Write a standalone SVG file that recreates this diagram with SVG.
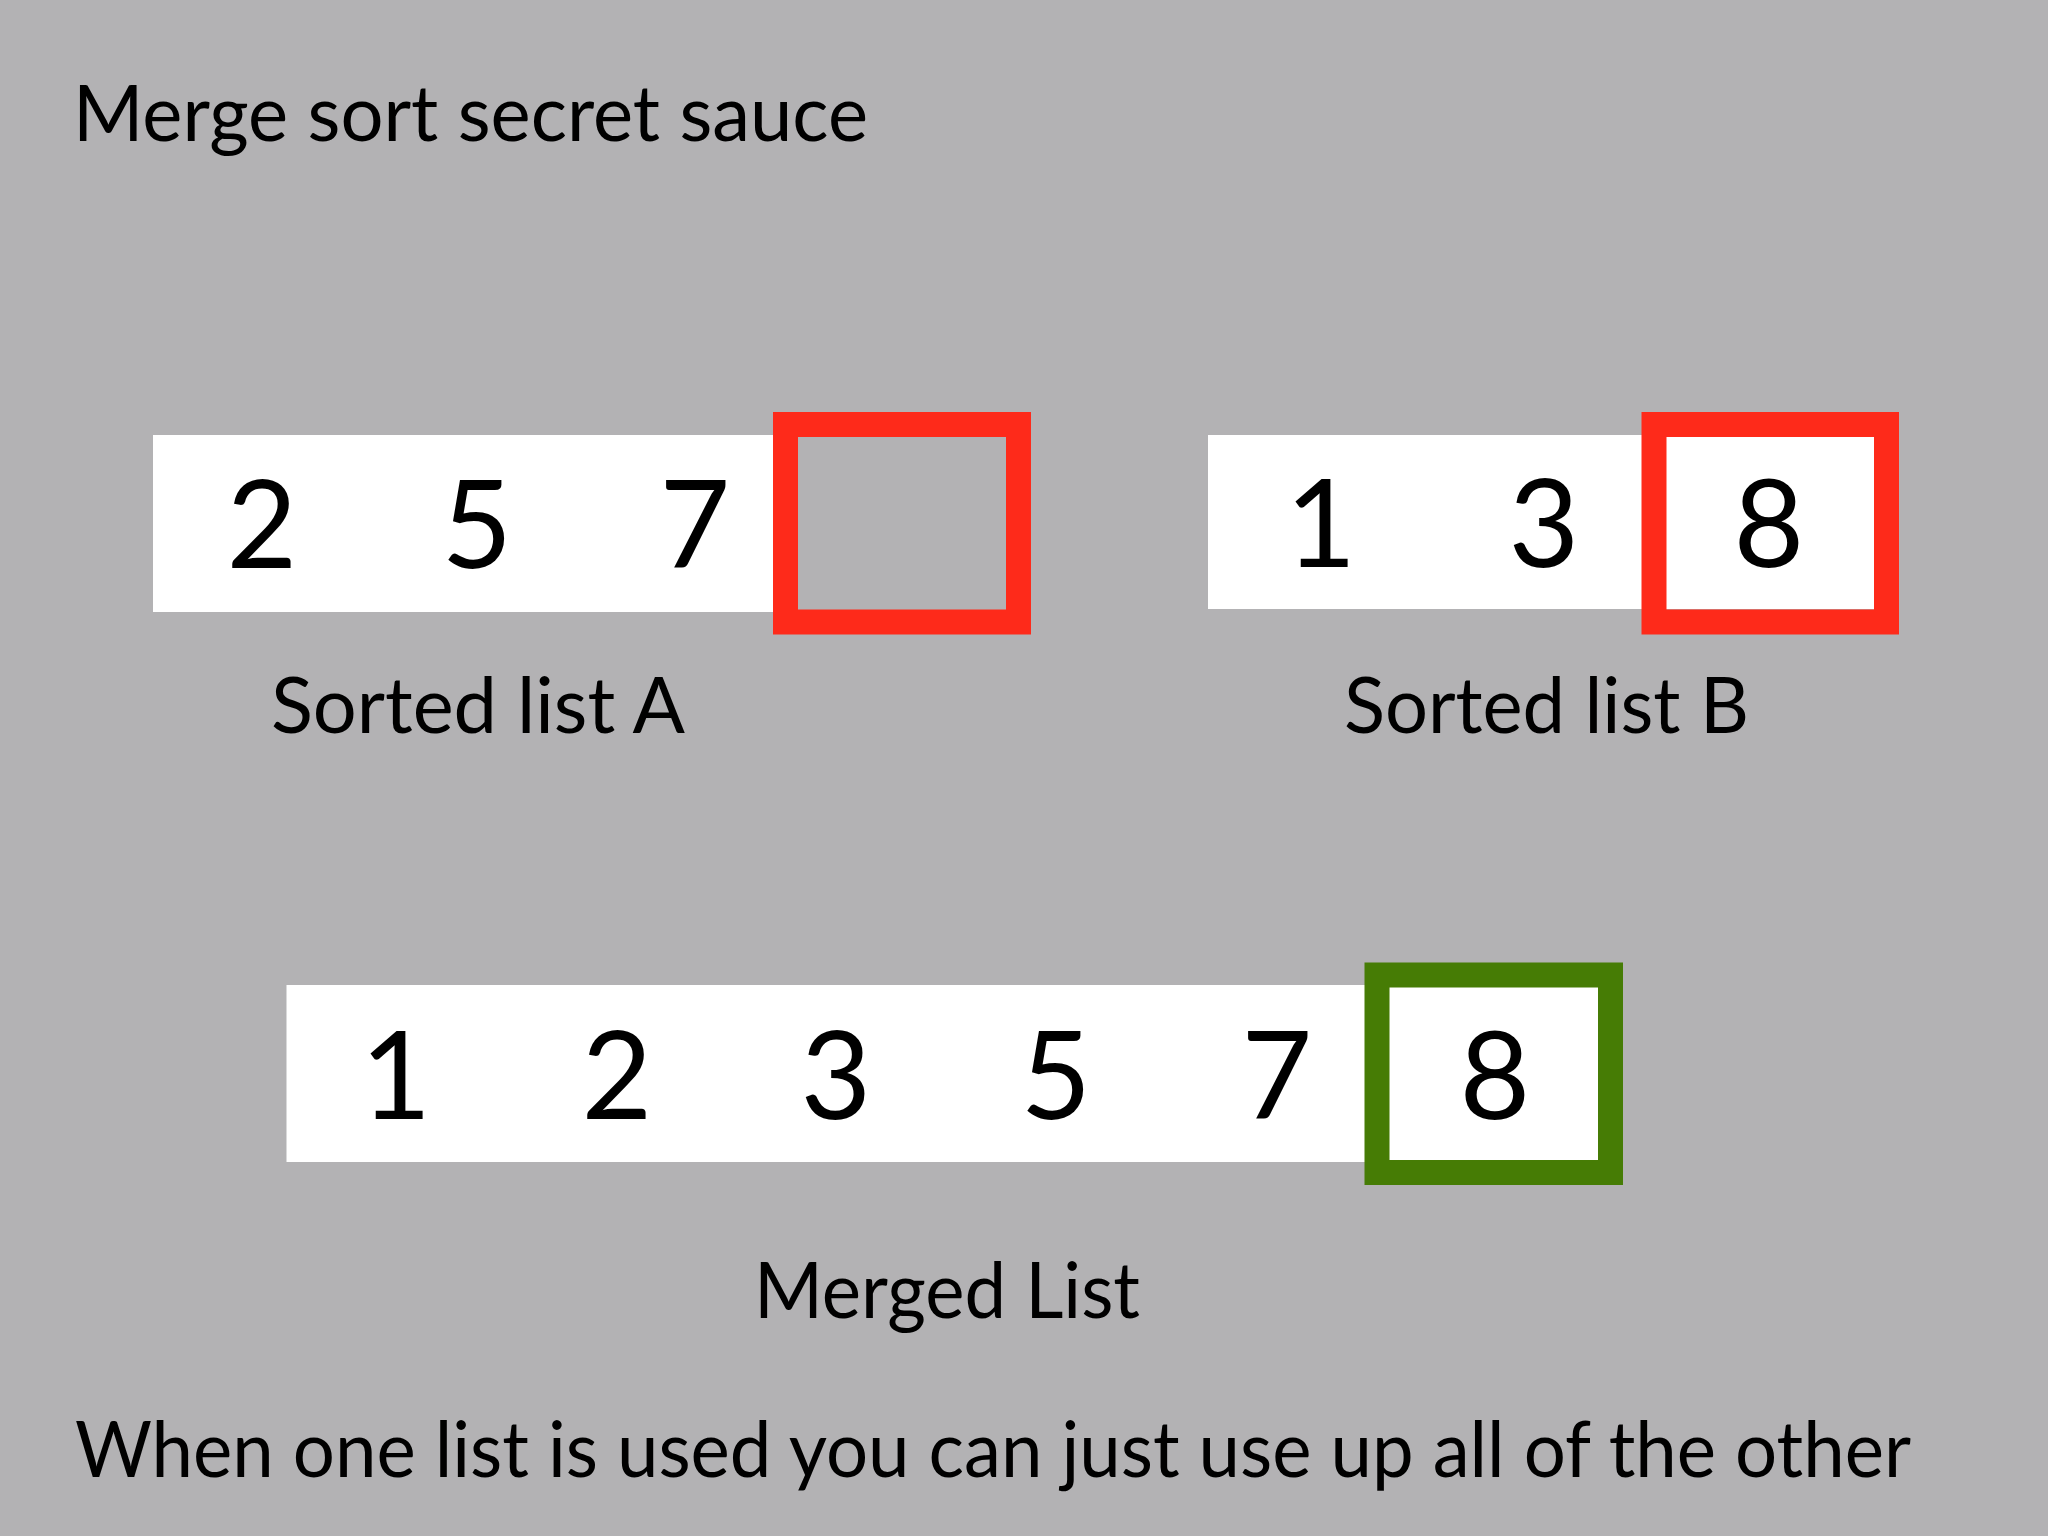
<svg xmlns="http://www.w3.org/2000/svg" width="2048" height="1536" viewBox="0 0 2048 1536">
<style>
.bg{fill:#b3b2b4}
.bar{fill:#ffffff}
.red{fill:none;stroke:#fe2a1a;stroke-width:25}
.green{fill:none;stroke:#467c05;stroke-width:25}
.t{font-family:Lato,"Liberation Sans",sans-serif;fill:#000}
.lbl{font-size:78px}
.dig{font-size:122px;text-anchor:middle}
</style>
<rect class="bg" x="0" y="0" width="2048" height="1536"/>
<text id="title" class="t lbl" x="73" y="141" textLength="795" lengthAdjust="spacingAndGlyphs">Merge sort secret sauce</text>
<g id="listA">
<rect class="bar" x="153" y="435" width="620" height="177"/>
<rect class="red" x="785.5" y="424.5" width="233" height="197.5"/>
<text class="t dig" x="262" y="568">2</text>
<text class="t dig" x="477" y="568">5</text>
<text class="t dig" x="695" y="568">7</text>
<text class="t lbl" x="271" y="733" textLength="414" lengthAdjust="spacingAndGlyphs">Sorted list A</text>
</g>
<g id="listB">
<rect class="bar" x="1208" y="435" width="670" height="174"/>
<rect class="red" x="1654" y="424.5" width="232.5" height="197.5"/>
<text class="t dig" x="1321" y="567">1</text>
<text class="t dig" x="1544" y="567">3</text>
<text class="t dig" x="1769" y="567">8</text>
<text class="t lbl" x="1344" y="733" textLength="405" lengthAdjust="spacingAndGlyphs">Sorted list B</text>
</g>
<g id="merged">
<rect class="bar" x="286.5" y="985" width="1320" height="177"/>
<rect class="green" x="1377" y="975" width="233.5" height="197.5"/>
<text class="t dig" x="396" y="1119">1</text>
<text class="t dig" x="617" y="1119">2</text>
<text class="t dig" x="836" y="1119">3</text>
<text class="t dig" x="1056" y="1119">5</text>
<text class="t dig" x="1277" y="1119">7</text>
<text class="t dig" x="1495" y="1119">8</text>
<text class="t lbl" x="754" y="1318" textLength="386" lengthAdjust="spacingAndGlyphs">Merged List</text>
</g>
<g id="connectors"/>
<text id="note" class="t lbl" x="75" y="1477" textLength="1836" lengthAdjust="spacingAndGlyphs">When one list is used you can just use up all of the other</text>
</svg>
